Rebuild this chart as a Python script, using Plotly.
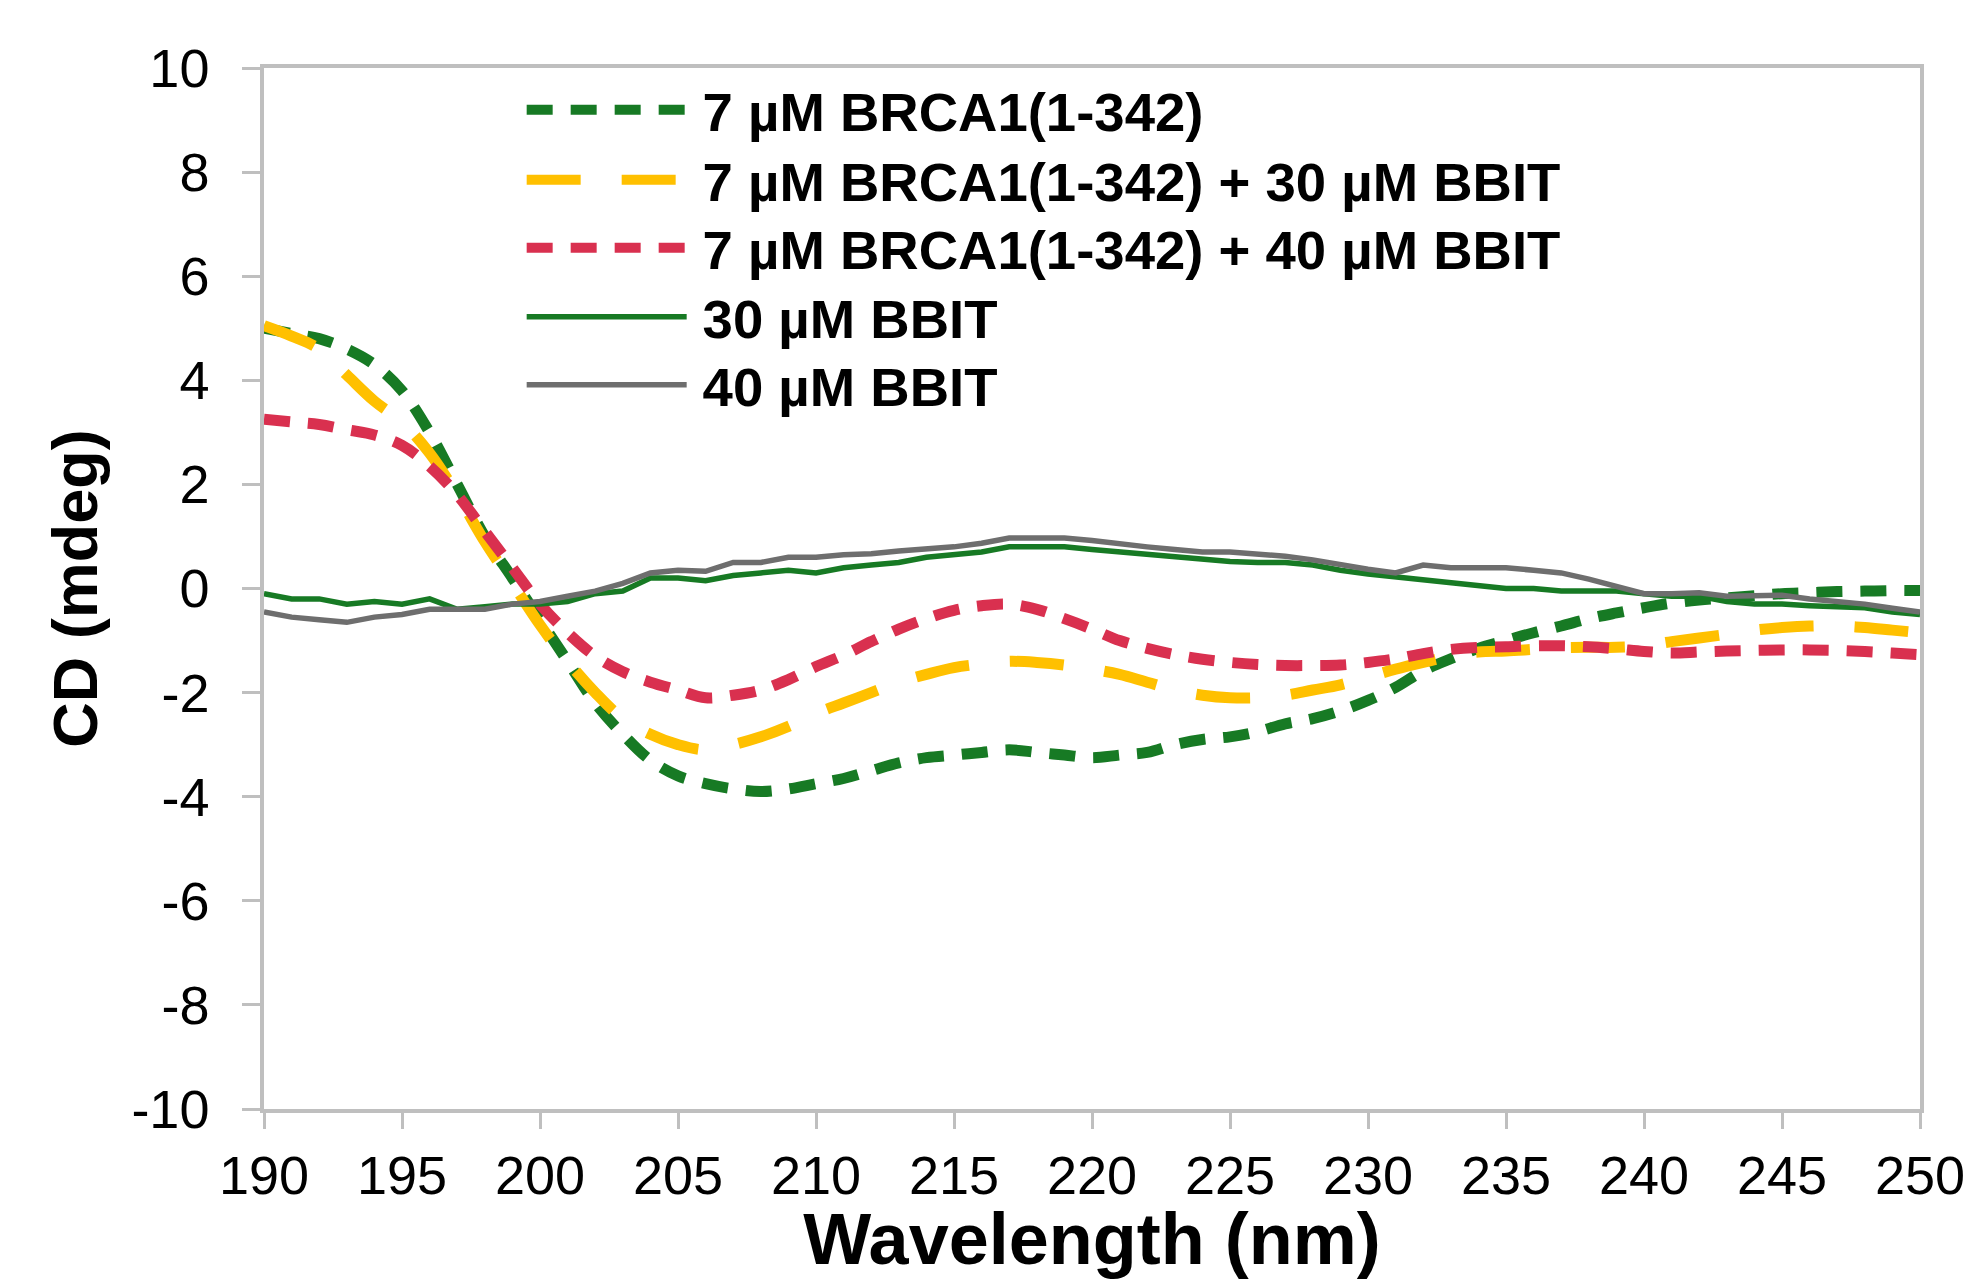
import plotly.graph_objects as go

wavelength = list(range(190, 251))

brca1 = [5.0, 4.9, 4.8, 4.6, 4.3, 3.8, 3.0, 2.0, 1.0, 0.2,
         -0.6, -1.4, -2.2, -2.8, -3.3, -3.6, -3.75, -3.85, -3.9, -3.85,
         -3.75, -3.65, -3.5, -3.35, -3.25, -3.2, -3.15, -3.1, -3.15, -3.2,
         -3.25, -3.2, -3.15, -3.0, -2.9, -2.85, -2.75, -2.6, -2.5, -2.35,
         -2.15, -1.9, -1.58, -1.35, -1.15, -1.0, -0.85, -0.72, -0.58, -0.47,
         -0.37, -0.28, -0.22, -0.18, -0.14, -0.1, -0.08, -0.06, -0.05, -0.04, -0.04]

brca1_bbit30 = [5.05, 4.85, 4.6, 4.1, 3.6, 3.2, 2.6, 1.8, 0.9, 0.1,
                -0.7, -1.4, -2.0, -2.5, -2.8, -3.0, -3.1, -3.0, -2.85, -2.65,
                -2.4, -2.2, -2.0, -1.8, -1.65, -1.52, -1.45, -1.4, -1.42, -1.47,
                -1.55, -1.65, -1.8, -1.95, -2.05, -2.1, -2.1, -2.05, -1.95, -1.85,
                -1.7, -1.55, -1.42, -1.3, -1.22, -1.2, -1.17, -1.14, -1.13, -1.13,
                -1.1, -1.02, -0.95, -0.88, -0.8, -0.75, -0.72, -0.72, -0.75, -0.8, -0.85]

brca1_bbit40 = [3.25, 3.2, 3.15, 3.05, 2.95, 2.75, 2.35, 1.8, 1.1, 0.4,
                -0.3, -0.85, -1.3, -1.6, -1.8, -1.95, -2.1, -2.05, -1.95, -1.75,
                -1.5, -1.28, -1.02, -0.78, -0.58, -0.42, -0.33, -0.3, -0.4, -0.58,
                -0.78, -1.0, -1.15, -1.27, -1.36, -1.42, -1.46, -1.48, -1.48, -1.47,
                -1.42, -1.35, -1.25, -1.17, -1.13, -1.12, -1.1, -1.1, -1.12, -1.16,
                -1.21, -1.24, -1.22, -1.2, -1.19, -1.18, -1.18, -1.19, -1.21, -1.24, -1.27]

bbit30 = [-0.1, -0.2, -0.2, -0.3, -0.25, -0.3, -0.2, -0.4, -0.35, -0.3,
          -0.3, -0.25, -0.1, -0.05, 0.2, 0.2, 0.15, 0.25, 0.3, 0.35,
          0.3, 0.4, 0.45, 0.5, 0.6, 0.65, 0.7, 0.8, 0.8, 0.8,
          0.75, 0.7, 0.65, 0.6, 0.55, 0.52, 0.5, 0.5, 0.45, 0.35,
          0.28, 0.22, 0.18, 0.12, 0.05, 0.0, 0.0, -0.05, -0.05, -0.05,
          -0.1, -0.15, -0.15, -0.25, -0.3, -0.3, -0.33, -0.35, -0.37, -0.45, -0.5]

bbit40 = [-0.45, -0.55, -0.6, -0.65, -0.55, -0.5, -0.4, -0.4, -0.4, -0.3,
          -0.25, -0.15, -0.05, 0.1, 0.3, 0.35, 0.33, 0.5, 0.5, 0.6,
          0.6, 0.65, 0.67, 0.72, 0.75, 0.8, 0.87, 0.97, 0.97, 0.97,
          0.92, 0.85, 0.8, 0.75, 0.7, 0.7, 0.67, 0.62, 0.55, 0.45,
          0.37, 0.3, 0.45, 0.4, 0.4, 0.4, 0.35, 0.3, 0.18, 0.05,
          -0.1, -0.1, -0.08, -0.15, -0.15, -0.13, -0.2, -0.25, -0.3, -0.38, -0.45]

names = ["7 µM BRCA1(1-342)",
         "7 µM BRCA1(1-342) + 30 µM BBIT",
         "7 µM BRCA1(1-342) + 40 µM BBIT",
         "30 µM BBIT",
         "40 µM BBIT"]

x_tickvals = list(range(190, 251, 5))
x_ticktext = [str(v) for v in x_tickvals]
y_tickvals = list(range(-10, 11, 2))
y_ticktext = [str(v) for v in y_tickvals]

FONT = "Liberation Sans, Arial, sans-serif"

fig = go.Figure()
series = [brca1, brca1_bbit30, brca1_bbit40, bbit30, bbit40]
styles = [
    dict(color="#177A24", width=11, dash="26px,18px", shape="spline"),
    dict(color="#FFC000", width=11, dash="54px,41px", shape="spline"),
    dict(color="#D9304F", width=11, dash="26px,18px", shape="spline"),
    dict(color="#177A24", width=5.5, dash="solid", shape="linear"),
    dict(color="#6E6E6E", width=5.5, dash="solid", shape="linear"),
]
legend_ids = ["legend", "legend2", "legend3", "legend4", "legend5"]
# vertical centres of the legend rows, as fractions of the plot height
legend_rows = [0.9598, 0.8925, 0.8272, 0.7609, 0.6956]

for name, ys, st, lg in zip(names, series, styles, legend_ids):
    fig.add_trace(go.Scatter(
        x=wavelength, y=ys, mode="lines", name="<b>\u2009" + name + "</b>",
        legend=lg,
        line=dict(color=st["color"], width=st["width"], dash=st["dash"], shape=st["shape"]),
    ))

legend_common = dict(
    x=0.1556, xanchor="left", yanchor="middle",
    bgcolor="rgba(0,0,0,0)", borderwidth=0,
    font=dict(family=FONT, size=54.5, color="black"),
    itemwidth=160, tracegroupgap=0,
)
legend_layout = {lg: dict(legend_common, y=yr) for lg, yr in zip(legend_ids, legend_rows)}

axis_color = "#BFBFBF"
fig.update_layout(
    width=1963, height=1271,
    margin=dict(l=256, r=51, t=60, b=170, pad=0, autoexpand=False),
    paper_bgcolor="white", plot_bgcolor="white",
    font=dict(family=FONT, size=54, color="black"),
    showlegend=True,
    xaxis=dict(
        range=[190, 250], tickvals=x_tickvals, ticktext=x_ticktext,
        showgrid=False, zeroline=False, automargin=False,
        showline=True, linecolor=axis_color, linewidth=3.5, mirror=True,
        ticks="outside", ticklen=16, tickwidth=3, tickcolor=axis_color,
        ticklabelstandoff=0,
        tickfont=dict(family=FONT, size=54),
        title=dict(text="Wavelength (nm)", standoff=33,
                   font=dict(family=FONT, size=72, weight="bold")),
    ),
    yaxis=dict(
        range=[-10, 10], tickvals=y_tickvals, ticktext=y_ticktext,
        showgrid=False, zeroline=False, automargin=False,
        showline=True, linecolor=axis_color, linewidth=3.5, mirror=True,
        ticks="outside", ticklen=18, tickwidth=3, tickcolor=axis_color,
        ticklabelstandoff=22,
        tickfont=dict(family=FONT, size=54),
        title=dict(text="CD (mdeg)", standoff=14,
                   font=dict(family=FONT, size=63, weight="bold")),
    ),
    **legend_layout,
)

fig.write_html("out.html")
